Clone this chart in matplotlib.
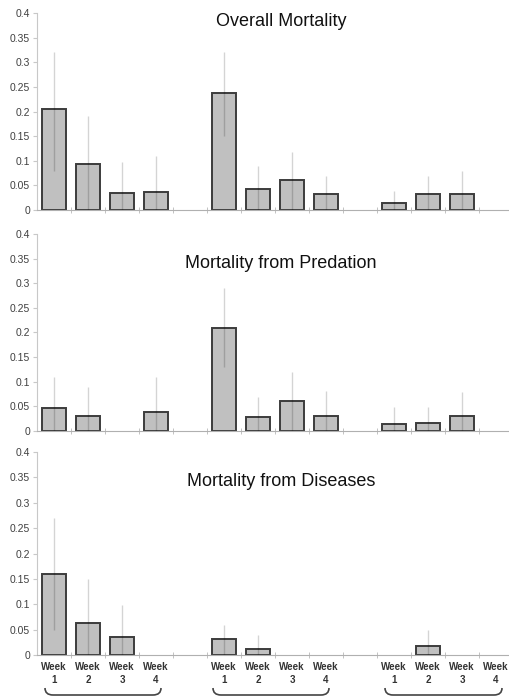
import numpy as np
import matplotlib.pyplot as plt
from matplotlib.path import Path
from matplotlib.patches import PathPatch
from matplotlib.ticker import FuncFormatter

plt.rcParams['font.family'] = ['Liberation Sans', 'DejaVu Sans']

nan = np.nan

# 3 groups x 4 weeks, empty slot between groups
weeks = ["Week\n1", "Week\n2", "Week\n3", "Week\n4"]
slots = [0, 1, 2, 3, 5, 6, 7, 8, 10, 11, 12, 13]

titles = ["Overall Mortality", "Mortality from Predation", "Mortality from Diseases"]

overall = [0.205, 0.093, 0.034, 0.037, 0.238, 0.042, 0.060, 0.033, 0.015, 0.033, 0.033, nan]
overall_hi = [0.32, 0.19, 0.098, 0.11, 0.32, 0.09, 0.118, 0.07, 0.039, 0.07, 0.079, nan]
overall_lo = [0.08, 0, 0, 0, 0.15, 0, 0, 0, 0, 0, 0, nan]

predation = [0.047, 0.031, nan, 0.038, 0.21, 0.028, 0.061, 0.030, 0.015, 0.017, 0.030, nan]
predation_hi = [0.11, 0.09, nan, 0.11, 0.29, 0.07, 0.12, 0.081, 0.049, 0.049, 0.08, nan]
predation_lo = [0, 0, nan, 0, 0.13, 0, 0, 0, 0, 0, 0, nan]

disease = [0.16, 0.063, 0.0355, nan, 0.031, 0.011, nan, nan, nan, 0.017, nan, nan]
disease_hi = [0.27, 0.15, 0.099, nan, 0.059, 0.04, nan, nan, nan, 0.049, nan, nan]
disease_lo = [0.05, 0, 0, nan, 0, 0, nan, nan, nan, 0, nan, nan]

panels = [
    (overall, overall_lo, overall_hi),
    (predation, predation_lo, predation_hi),
    (disease, disease_lo, disease_hi),
]

W, H = 510, 696
fig = plt.figure(figsize=(W / 100, H / 100), dpi=100)

# pixel boxes: (y of 0.4, y of 0)
boxes = [(13, 210), (234, 431), (452, 655)]
left, right = 37, 510
title_y = [21, 263, 482]

spine_col = "#c8c8c8"
x = np.array(slots, dtype=float)

axes = []
for i, ((vals, lo, hi), (ytop, ybot)) in enumerate(zip(panels, boxes)):
    ax = fig.add_axes([left / W, 1 - ybot / H, (right - left) / W, (ybot - ytop) / H])
    axes.append(ax)
    vals = np.array(vals)
    lo = np.array(lo)
    hi = np.array(hi)
    ok = ~np.isnan(vals)
    ax.bar(x[ok], vals[ok], width=0.68, color="#c0c0c0", edgecolor="#3c3c3c",
           linewidth=1.4, zorder=2)
    ax.vlines(x[ok], lo[ok], hi[ok], color="k", alpha=0.17, linewidth=1.0, zorder=3)

    ax.set_xlim(-0.5, 13.41)
    ax.set_ylim(0, 0.4)
    ax.set_yticks(np.arange(0, 0.401, 0.05))
    ax.yaxis.set_major_formatter(FuncFormatter(lambda v, p: f"{v:g}"))
    ax.tick_params(axis="y", length=3, color=spine_col, labelsize=7.5,
                   labelcolor="#404040", pad=2)
    for s in ["top", "right"]:
        ax.spines[s].set_visible(False)
    ax.spines["left"].set_color(spine_col)
    ax.spines["bottom"].set_color("#b0b0b0")

    ax.set_xticks(np.arange(0.5, 13.5, 1), minor=True)
    ax.tick_params(axis="x", which="minor", direction="inout", length=4, color="#b8b8b8")
    ax.set_xticks(slots)
    if i == 2:
        ax.set_xticklabels(weeks * 3, fontsize=7, fontweight="bold", color="#333333",
                           linespacing=1.4)
        ax.tick_params(axis="x", which="major", length=0, pad=5)
    else:
        ax.set_xticklabels([])
        ax.tick_params(axis="x", which="major", length=0)
    ax.patch.set_alpha(0)

    fig.text(281 / W, 1 - title_y[i] / H, titles[i], ha="center", va="center",
             fontsize=13, color="#111111")

# braces under each group of weeks
for x0, x1 in [(45, 161), (213, 329), (385, 502)]:
    yt, yb, r = 1 - 688 / H, 1 - 695 / H, 8 / W
    verts = [(x0 / W, yt), (x0 / W, yb), (x0 / W + r, yb),
             (x1 / W - r, yb),
             (x1 / W, yb), (x1 / W, yt)]
    codes = [Path.MOVETO, Path.CURVE3, Path.CURVE3, Path.LINETO, Path.CURVE3, Path.CURVE3]
    fig.add_artist(PathPatch(Path(verts, codes), transform=fig.transFigure,
                             facecolor="none", edgecolor="#444444", linewidth=1.2))

fig.savefig("out.png", dpi=100)
